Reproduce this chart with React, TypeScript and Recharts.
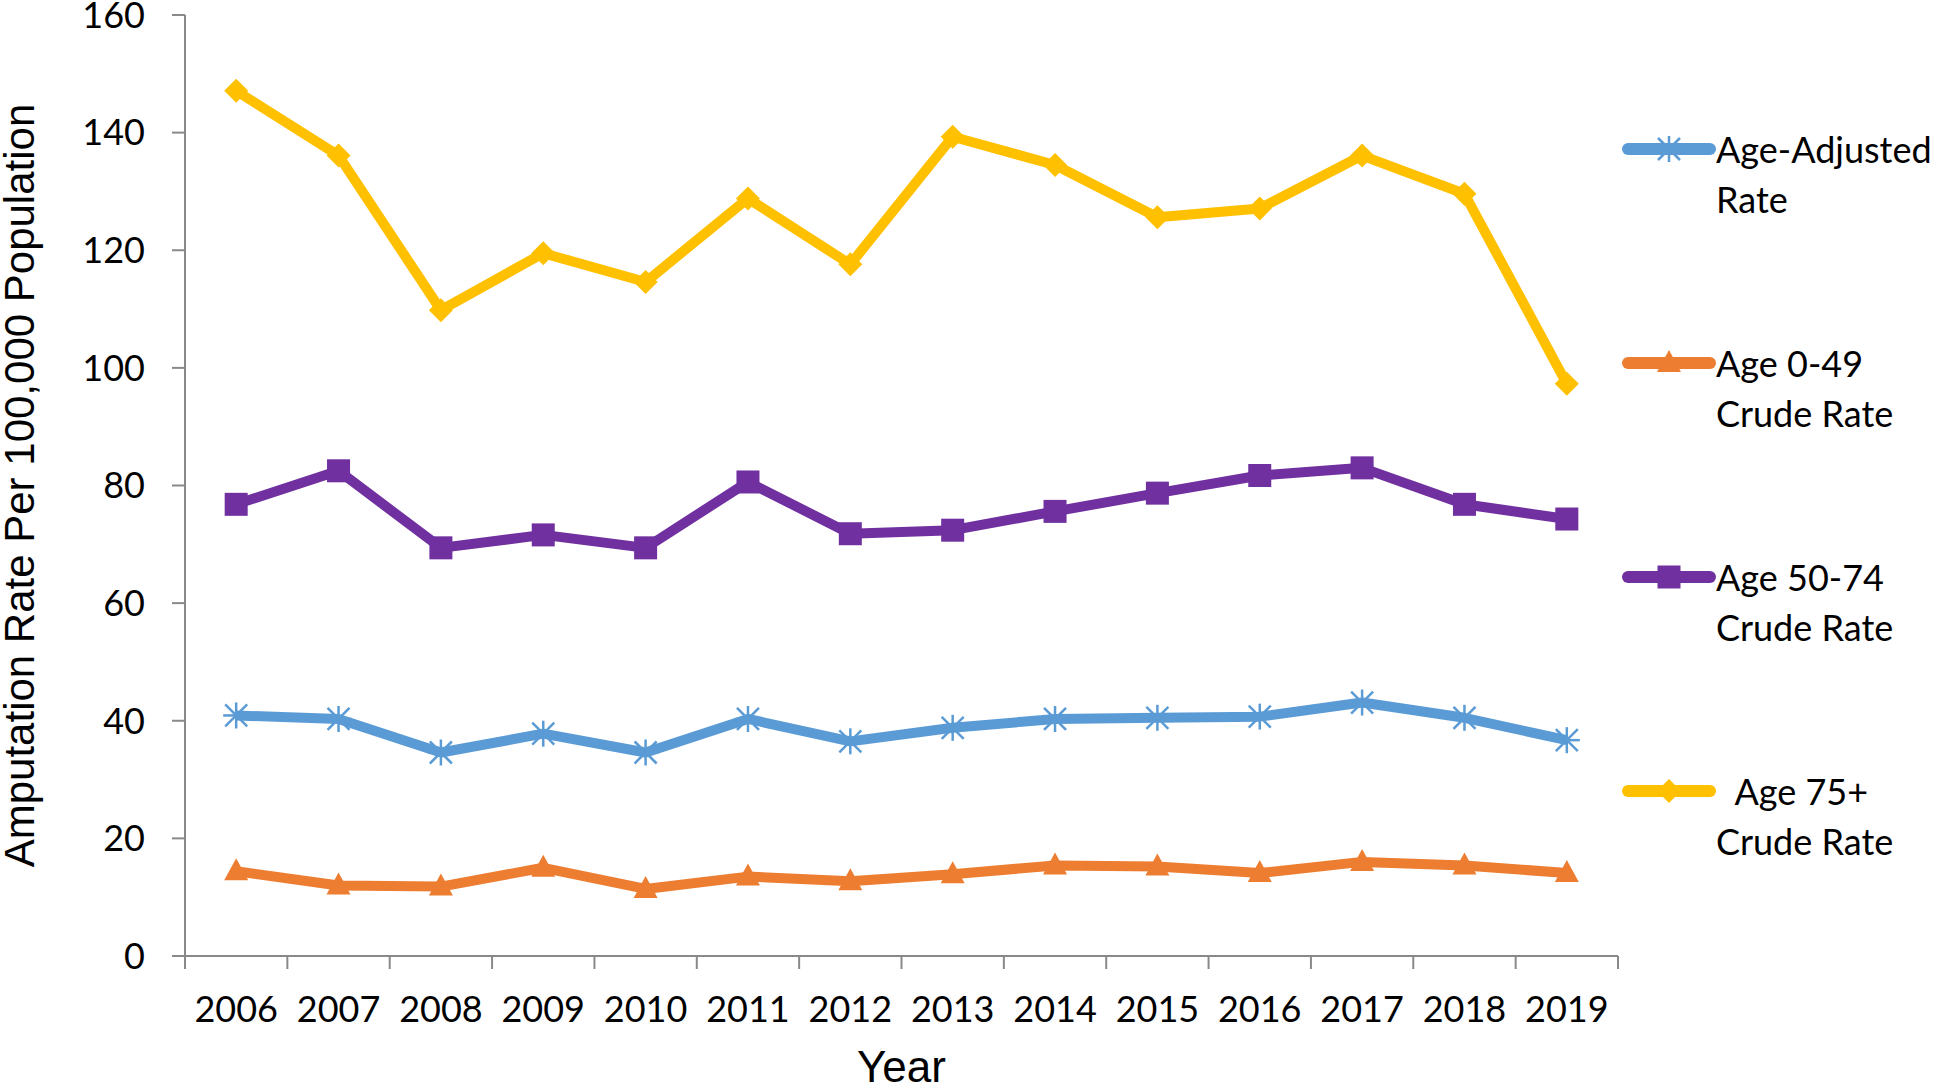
import React from "react";
import { LineChart, Line, XAxis, YAxis, Legend } from "recharts";

const years = ["2006", "2007", "2008", "2009", "2010", "2011", "2012", "2013", "2014", "2015", "2016", "2017", "2018", "2019"];
const ageAdjusted = [40.9, 40.3, 34.6, 37.8, 34.6, 40.3, 36.5, 38.8, 40.3, 40.5, 40.7, 43.1, 40.5, 36.7];
const age0to49 = [14.4, 12.0, 11.8, 15.0, 11.4, 13.5, 12.7, 13.9, 15.4, 15.2, 14.1, 16.0, 15.4, 14.1];
const age50to74 = [76.8, 82.5, 69.4, 71.6, 69.4, 80.6, 71.8, 72.4, 75.6, 78.7, 81.7, 83.0, 76.8, 74.3];
const age75plus = [147.1, 136.1, 109.8, 119.5, 114.6, 128.8, 117.6, 139.3, 134.5, 125.6, 127.1, 136.1, 129.6, 97.3];
const yTicks = [0, 20, 40, 60, 80, 100, 120, 140, 160];

const data = years.map((year, i) => ({
  year,
  adj: ageAdjusted[i],
  a049: age0to49[i],
  a5074: age50to74[i],
  a75: age75plus[i],
}));

const W = 1946;
const H = 1086;
const M_RIGHT = 328;
const Y_W = 185;
const PLOT_W = W - M_RIGHT - Y_W;
const AXIS = "#898989";
const TICK_FONT = "Lato, 'Open Sans', sans-serif";
const TITLE_FONT = "'Liberation Sans', Arial, sans-serif";

const SERIES = [
  { key: "adj", name: "Age-Adjusted\nRate", color: "#5B9BD5", marker: "star" },
  { key: "a049", name: "Age 0-49\nCrude Rate", color: "#ED7D31", marker: "triangle" },
  { key: "a5074", name: "Age 50-74\nCrude Rate", color: "#7030A0", marker: "square" },
  { key: "a75", name: "  Age 75+\nCrude Rate", color: "#FFC000", marker: "diamond" },
];

function Marker({ type, cx, cy, color }: { type: string; cx: number; cy: number; color: string }) {
  if (type === "star") {
    const r = 11;
    return (
      <g stroke={color} strokeWidth={2.5}>
        <line x1={cx - r} y1={cy - r} x2={cx + r} y2={cy + r} />
        <line x1={cx - r} y1={cy + r} x2={cx + r} y2={cy - r} />
        <line x1={cx} y1={cy - r - 2} x2={cx} y2={cy + r + 2} />
        <line x1={cx - r - 2} y1={cy} x2={cx + r + 2} y2={cy} />
      </g>
    );
  }
  if (type === "triangle") {
    return <path d={`M${cx},${cy - 13} L${cx + 12},${cy + 9} L${cx - 12},${cy + 9} Z`} fill={color} />;
  }
  if (type === "square") {
    return <rect x={cx - 11.5} y={cy - 11.5} width={23} height={23} fill={color} />;
  }
  return <path d={`M${cx},${cy - 12} L${cx + 12},${cy} L${cx},${cy + 12} L${cx - 12},${cy} Z`} fill={color} />;
}

const makeDot = (type: string, color: string) => (props: any) => (
  <g key={`${type}-${props.index}`}>
    <Marker type={type} cx={props.cx} cy={props.cy} color={color} />
  </g>
);

function YearTick(props: any) {
  const { x, y, payload, index } = props;
  const half = PLOT_W / years.length / 2;
  return (
    <g>
      <line x1={x - half} y1={y} x2={x - half} y2={y + 13} stroke={AXIS} strokeWidth={2} />
      {index === years.length - 1 && (
        <line x1={x + half} y1={y} x2={x + half} y2={y + 13} stroke={AXIS} strokeWidth={2} />
      )}
      <text x={x} y={y + 40} dy="0.71em" textAnchor="middle" fill="#000" fontSize={36} fontFamily={TICK_FONT}>
        {payload.value}
      </text>
    </g>
  );
}

// legend keeps the series order (adjusted rate on top)
function LegendBox(props: any) {
  const keys = (props.payload || []).map((p: any) => p.dataKey);
  const items = SERIES.filter((s) => keys.includes(s.key));
  return (
    <div style={{ display: "flex", flexDirection: "column" }}>
      {items.map((s) => (
        <div key={s.key} style={{ display: "flex", alignItems: "flex-start", height: 214 }}>
          <svg width={96} height={50} style={{ flex: "none" }}>
            <line x1={8} y1={25} x2={90} y2={25} stroke={s.color} strokeWidth={12} strokeLinecap="round" />
            <Marker type={s.marker} cx={49} cy={25} color={s.color} />
          </svg>
          <div
            style={{
              whiteSpace: "pre-wrap",
              fontFamily: TICK_FONT,
              fontSize: 36,
              lineHeight: "50px",
              color: "#000",
            }}
          >
            {s.name}
          </div>
        </div>
      ))}
    </div>
  );
}

export default function App() {
  return (
    <div style={{ position: "absolute", left: 0, top: 0, width: W, height: H, background: "#fff" }}>
      <LineChart width={W} height={H} data={data} margin={{ top: 15, right: M_RIGHT, bottom: 0, left: 0 }}>
        <XAxis
          dataKey="year"
          scale="band"
          height={130}
          tickSize={0}
          tickMargin={0}
          tickLine={false}
          axisLine={{ stroke: AXIS, strokeWidth: 2 }}
          tick={<YearTick />}
          interval={0}
          label={{ value: "Year", position: "insideBottom", offset: 4, fill: "#000", fontSize: 44, fontFamily: TITLE_FONT }}
        />
        <YAxis
          width={Y_W}
          domain={[0, 160]}
          ticks={yTicks}
          interval={0}
          tickSize={13}
          tickMargin={27}
          axisLine={{ stroke: AXIS, strokeWidth: 2 }}
          tickLine={{ stroke: AXIS, strokeWidth: 2 }}
          tick={{ fill: "#000", fontSize: 36, fontFamily: TICK_FONT }}
          label={{
            value: "Amputation Rate Per 100,000 Population",
            angle: -90,
            position: "insideLeft",
            offset: 19,
            fill: "#000",
            fontSize: 42,
            fontFamily: TITLE_FONT,
            style: { textAnchor: "middle" },
          }}
        />
        <Legend
          layout="vertical"
          align="center"
          verticalAlign="middle"
          content={<LegendBox />}
          wrapperStyle={{ left: 1620, top: 124, width: 326 }}
        />
        {SERIES.map((s) => (
          <Line
            key={s.key}
            dataKey={s.key}
            name={s.name}
            stroke={s.color}
            strokeWidth={10}
            strokeLinejoin="round"
            dot={makeDot(s.marker, s.color)}
            activeDot={false}
            isAnimationActive={false}
          />
        ))}
      </LineChart>
    </div>
  );
}
